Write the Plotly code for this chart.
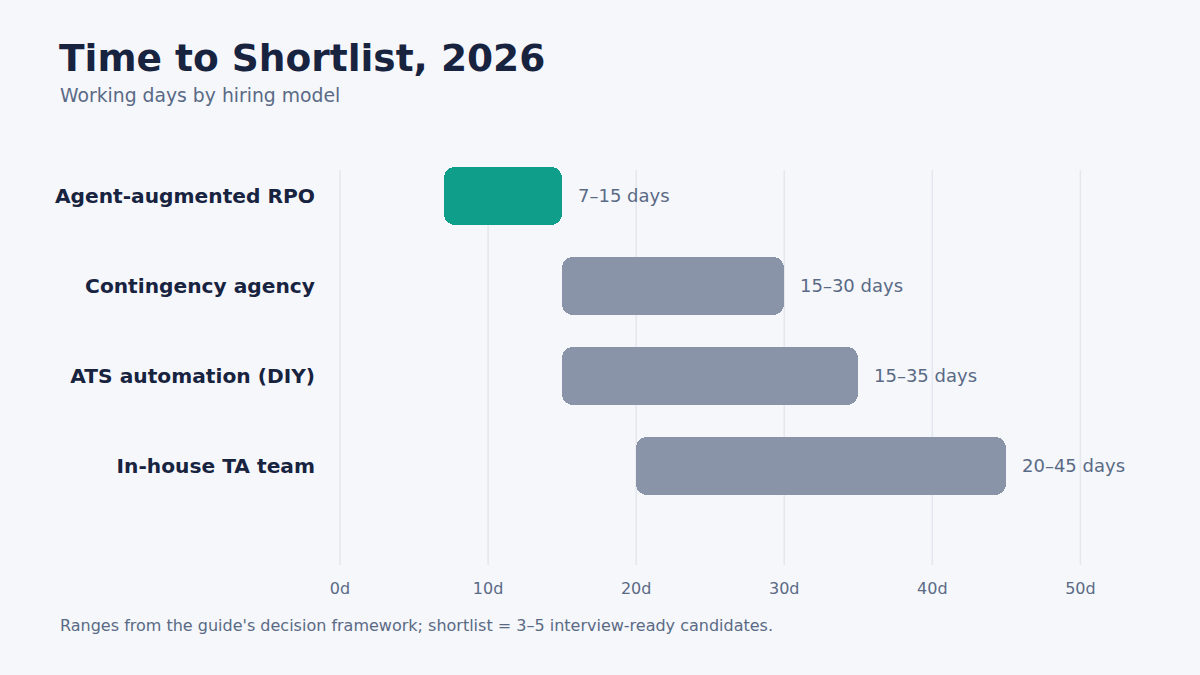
import plotly.graph_objects as go

categories = ["Agent-augmented RPO", "Contingency agency", "ATS automation (DIY)", "In-house TA team"]
range_start = [7, 15, 15, 20]
range_end = [15, 30, 35, 45]
range_labels = ["7–15 days", "15–30 days", "15–35 days", "20–45 days"]
tick_values = [0, 10, 20, 30, 40, 50]
tick_labels = ["0d", "10d", "20d", "30d", "40d", "50d"]

BG = "#f5f7fb"
NAVY = "#17233f"
MUTED = "#5a6a85"
GREEN = "#0e9e8a"
GRAY = "#8a94a8"
GRID = "#e4e7ee"
FONT = "DejaVu Sans"

W, H = 1200, 675
ML, MR, MT, MB = 339, 90, 160, 110
pw = W - ML - MR
ph = H - MT - MB

ypos = list(range(len(categories)))
colors = [GREEN] + [GRAY] * (len(categories) - 1)

fig = go.Figure()
fig.add_trace(go.Bar(
    y=ypos,
    x=[e - s for s, e in zip(range_start, range_end)],
    base=range_start,
    orientation="h",
    width=0.64,
    marker=dict(color=colors, cornerradius=11, line=dict(width=0)),
    hoverinfo="skip",
    showlegend=False,
))

# vertical gridlines (start slightly below the top of the plot area, as in the reference)
grid_top = 1 - (170 - MT) / ph
for tv in tick_values:
    fig.add_shape(
        type="line", xref="x", yref="paper", x0=tv, x1=tv, y0=0, y1=grid_top,
        line=dict(color=GRID, width=1.5), layer="below",
    )

for y, e, lab in zip(ypos, range_end, range_labels):
    fig.add_annotation(
        x=e, y=y, xref="x", yref="y", text=lab, showarrow=False,
        xanchor="left", yanchor="middle", xshift=14, yshift=1,
        font=dict(family=FONT, size=18, color=MUTED),
    )


def to_paper(px, py):
    return (px - ML) / pw, 1 - (py - MT) / ph


sx, sy = to_paper(58, 96)
fig.add_annotation(
    x=sx, y=sy, xref="paper", yref="paper",
    text="Working days by hiring model", showarrow=False,
    xanchor="left", yanchor="middle",
    font=dict(family=FONT, size=18.8, color=MUTED),
)
fx, fy = to_paper(58, 625)
fig.add_annotation(
    x=fx, y=fy, xref="paper", yref="paper",
    text="Ranges from the guide's decision framework; shortlist = 3–5 interview-ready candidates.",
    showarrow=False, xanchor="left", yanchor="middle",
    font=dict(family=FONT, size=16, color=MUTED),
)

fig.update_layout(
    width=W, height=H,
    paper_bgcolor=BG, plot_bgcolor=BG,
    margin=dict(l=ML, r=MR, t=MT, b=MB),
    title=dict(
        text="<b>Time to Shortlist, 2026</b>",
        x=59 / W, xref="container", xanchor="left",
        y=1 - 58 / H, yref="container", yanchor="middle",
        font=dict(family=FONT, size=37.5, color=NAVY),
    ),
    xaxis=dict(
        range=[-0.07, 52], tickvals=tick_values, ticktext=tick_labels,
        showgrid=False, zeroline=False, showline=False, ticks="",
        tickfont=dict(family=FONT, size=16, color=MUTED),
        ticklabelstandoff=12,
        fixedrange=True,
    ),
    yaxis=dict(
        range=[4.1, -0.4], tickvals=ypos, ticktext=categories,
        showgrid=False, zeroline=False, showline=False, ticks="",
        tickfont=dict(family=FONT, size=20.2, color=NAVY, weight="bold"),
        ticklabelstandoff=23,
        fixedrange=True,
    ),
    bargap=0,
)

fig.write_html("out.html")
